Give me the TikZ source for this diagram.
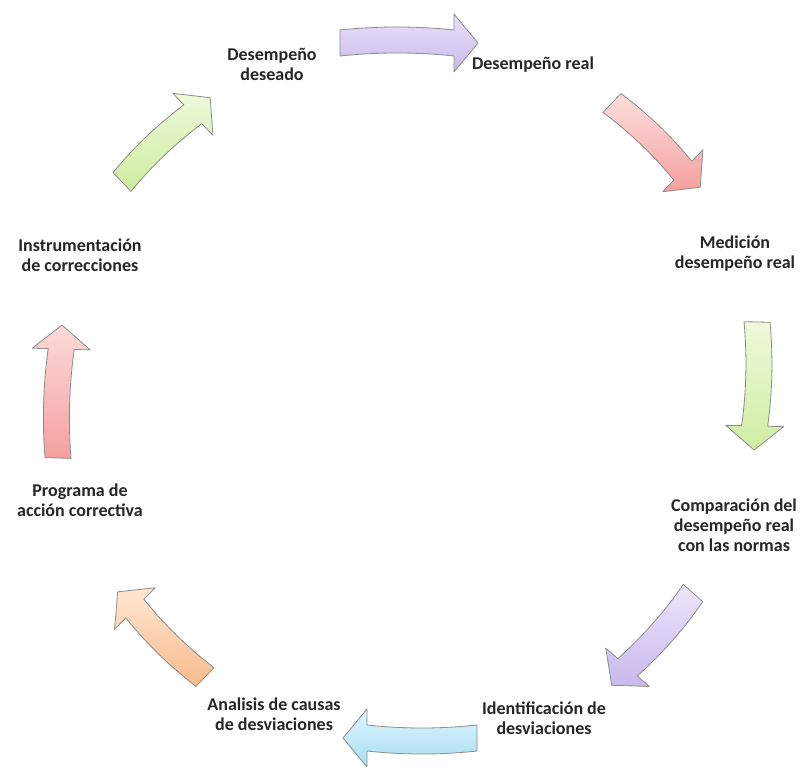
\documentclass[tikz,border=0pt]{standalone}
\usepackage{fontspec}
\setmainfont{Carlito}
\definecolor{purA}{HTML}{EAE2F9}
\definecolor{purB}{HTML}{C9B8EC}
\definecolor{pinA}{HTML}{FCDADA}
\definecolor{pinB}{HTML}{F5A0A0}
\definecolor{grnA}{HTML}{EEF9DA}
\definecolor{grnB}{HTML}{D0EDA2}
\definecolor{bluA}{HTML}{DDF5FD}
\definecolor{bluB}{HTML}{A8DEF2}
\definecolor{orgA}{HTML}{FEE6D2}
\definecolor{orgB}{HTML}{F8BE90}
\newcommand{\blockarrow}[6]{%
\begin{scope}[transform canvas={shift={(#1,#2)},rotate=#3}]
\pgfmathsetmacro{\Ls}{#4-24}
\draw[arrowline, top color=#5, bottom color=#6, shading angle={-(#3)}]
 (0,-13) .. controls ({\Ls/3},-17) and ({2*\Ls/3},-17) .. (\Ls,-13)
 -- (\Ls,-29) -- (#4,0) -- (\Ls,29) -- (\Ls,13)
 .. controls ({2*\Ls/3},9) and ({\Ls/3},9) .. (0,13) -- cycle;
\end{scope}}
\begin{document}
\begin{tikzpicture}[x=1pt,y=-1pt,
  lbl/.style={font=\bfseries\fontsize{18}{20}\selectfont, align=center, inner sep=0pt, text=black!85},
  arrowline/.style={draw=black!45, line width=0.8pt, line join=round}]
\useasboundingbox (0,0) rectangle (800,767);
\fill[white] (0,0) rectangle (800,767);
% arrows (tail x, tail y, angle, length)
\blockarrow{340}{43}{0}{138}{purA}{purB}
\blockarrow{612}{103}{-43.7}{122}{pinA}{pinB}
\blockarrow{757}{322}{-91.3}{128}{grnA}{grnB}
\blockarrow{693}{593}{-131.4}{123}{purA}{purB}
\blockarrow{477}{738}{180}{134}{bluA}{bluB}
\blockarrow{205}{677}{135.7}{122}{orgA}{orgB}
\blockarrow{58}{458}{88.3}{133}{pinA}{pinB}
\blockarrow{122}{182}{43.7}{122}{grnA}{grnB}
% labels
\node[lbl] (des) at (272,64) {Desempeño\\deseado};
\node[lbl] (real) at (533,65) {Desempeño real};
\node[lbl] (med) at (735,254) {Medición\\desempeño real};
\node[lbl] (comp) at (734,525) {Comparación del\\desempeño real\\con las normas};
\node[lbl] (ident) at (544,718) {Identificación de\\desviaciones};
\node[lbl] (anal) at (274,714) {Analisis de causas\\de desviaciones};
\node[lbl] (prog) at (80,500) {Programa de\\acción correctiva};
\node[lbl] (instr) at (80,255) {Instrumentación\\de correcciones};
\end{tikzpicture}
\end{document}
